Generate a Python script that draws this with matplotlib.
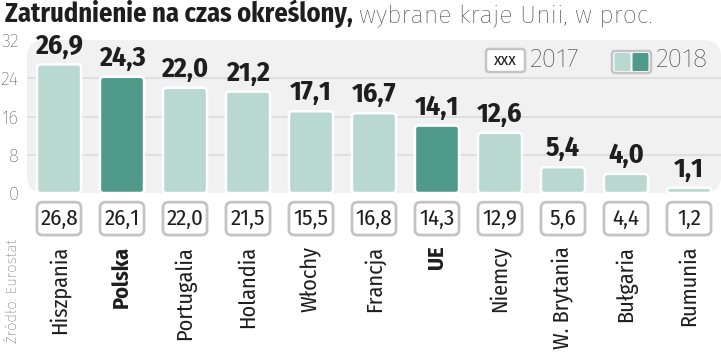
import numpy as np
import matplotlib.pyplot as plt
import matplotlib.transforms as mtransforms
from matplotlib.patches import FancyBboxPatch

# ---------------------------------- data ----------------------------------
countries = ["Hiszpania", "Polska", "Portugalia", "Holandia", "Włochy", "Francja",
             "UE", "Niemcy", "W. Brytania", "Bułgaria", "Rumunia"]
val_2018 = [26.9, 24.3, 22.0, 21.2, 17.1, 16.7, 14.1, 12.6, 5.4, 4.0, 1.1]
val_2017 = [26.8, 26.1, 22.0, 21.5, 15.5, 16.8, 14.3, 12.9, 5.6, 4.4, 1.2]
highlight = ["Polska", "UE"]
yticks = [0, 8, 16, 24, 32]

LIGHT = "#b9d9d0"
DARK = "#4f9a8b"
PANEL = "#f1f1f1"
GRID = "#dcdcdc"
BOXEDGE = "#c4c4c4"
TXT = "#1e1e1e"

NARROW = ["Fira Sans Condensed", "Roboto Condensed", "Liberation Sans Narrow", "DejaVu Sans"]
LIGHTF = ["Fira Sans", "Roboto", "DejaVu Sans"]


def fmt(v):
    return ("%.1f" % v).replace(".", ",")


W, H = 721, 352
fig = plt.figure(figsize=(W / 100, H / 100), dpi=100)
fig.patch.set_facecolor("white")

# axes: zero line at y=193px, 32 at y=40px; panel from x=27px to right edge
ax = fig.add_axes([27 / W, (H - 193) / H, 694 / W, 153 / H])
ax.set_facecolor("none")
x = np.arange(len(countries))
ax.set_xlim(-0.508, len(countries) - 1 + 0.508)
ax.set_ylim(0, 32)
for s in ax.spines.values():
    s.set_visible(False)

# panel background with rounded corners
panel = FancyBboxPatch((0, 0), 1, 1, boxstyle="round,pad=0,rounding_size=0.025",
                       mutation_aspect=694 / 153, transform=ax.transAxes,
                       facecolor=PANEL, edgecolor="none", zorder=0, clip_on=False)
ax.add_patch(panel)

for t in yticks[1:-1]:
    ax.axhline(t, color=GRID, lw=1.2, zorder=1)

ax.set_xticks([])
ax.set_yticks(yticks)
ax.set_yticklabels([str(t) for t in yticks], fontfamily=LIGHTF, fontweight="light",
                   fontsize=13.5, color="#333333")
ax.tick_params(axis="y", length=0, pad=6)

# bars (rounded)
bw = 0.70
px_x = 694 / (len(countries) + 0.016)
px_y = 153 / 32
asp = px_x / px_y
for xi, v, c in zip(x, val_2018, countries):
    col = DARK if c in highlight else LIGHT
    r = min(0.06, v / 2 / asp * 0.9)
    p = FancyBboxPatch((xi - bw / 2, 0), bw, v,
                       boxstyle="round,pad=0,rounding_size=%f" % r,
                       mutation_aspect=asp, facecolor=col, edgecolor="white",
                       linewidth=1.8, zorder=3)
    ax.add_patch(p)
    ax.text(xi, v + 1.1, fmt(v), ha="center", va="bottom", fontfamily=NARROW,
            fontweight="bold", fontsize=20, color=TXT, zorder=4)

# 2017 boxes and country labels
bt = mtransforms.blended_transform_factory(ax.transData, ax.transAxes)
bw17 = 0.70
for xi, v, c in zip(x, val_2017, countries):
    b = FancyBboxPatch((xi - bw17 / 2, -0.275), bw17, 0.215,
                       boxstyle="round,pad=0,rounding_size=0.09",
                       mutation_aspect=px_x / 153, transform=bt,
                       facecolor="white", edgecolor=BOXEDGE, linewidth=2.0,
                       clip_on=False, zorder=3)
    ax.add_patch(b)
    ax.text(xi, -0.167, fmt(v), transform=bt, ha="center", va="center",
            fontfamily=NARROW, fontsize=16.5, color=TXT, zorder=4)
    ax.text(xi, -0.345, c, transform=bt, ha="center", va="top", rotation=90,
            fontfamily=NARROW, fontsize=16, color=TXT,
            fontweight="bold" if c in highlight else "normal")

# legend
legbox = FancyBboxPatch((486 / W, 1 - 72 / H), 39 / W, 23 / H,
                        boxstyle="round,pad=0,rounding_size=0.004",
                        mutation_aspect=W / H, transform=fig.transFigure,
                        facecolor="white", edgecolor=BOXEDGE, linewidth=1.8,
                        zorder=5)
fig.patches.append(legbox)
fig.text(505.5 / W, 1 - 60 / H, "xxx", ha="center", va="center", fontfamily=NARROW,
         fontsize=12.5, color=TXT, zorder=10)
fig.text(530 / W, 1 - 60 / H, "2017", ha="left", va="center", fontfamily=LIGHTF,
         fontweight="light", fontsize=19.5, color="#2a2a2a", zorder=10)
outer = FancyBboxPatch((612 / W, 1 - 73 / H), 39 / W, 22 / H,
                       boxstyle="round,pad=0,rounding_size=0.004",
                       mutation_aspect=W / H, transform=fig.transFigure,
                       facecolor="white", edgecolor=BOXEDGE, linewidth=1.8, zorder=5)
fig.patches.append(outer)
for x0, col in [(614.5, LIGHT), (632.5, DARK)]:
    sq = FancyBboxPatch((x0 / W, 1 - 71 / H), 16 / W, 18 / H,
                        boxstyle="round,pad=0,rounding_size=0.002",
                        mutation_aspect=W / H, transform=fig.transFigure,
                        facecolor=col, edgecolor="none", zorder=6)
    fig.patches.append(sq)
fig.text(656 / W, 1 - 60 / H, "2018", ha="left", va="center", fontfamily=LIGHTF,
         fontweight="light", fontsize=19.5, color="#2a2a2a", zorder=10)

# title
t1 = fig.text(5 / W, 1 - 22 / H, "Zatrudnienie na czas określony,", ha="left",
              va="baseline", fontfamily=NARROW, fontweight="bold", fontsize=19,
              color=TXT)
fig.canvas.draw()
bb = t1.get_window_extent(renderer=fig.canvas.get_renderer())
fig.text(bb.x1 / W + 6 / W, 1 - 22 / H, "wybrane kraje Unii, w proc.", ha="left",
         va="baseline", fontfamily=LIGHTF, fontweight="light", fontsize=18,
         color="#2a2a2a")

# source
fig.text(13 / W, 1 - 239 / H, "Źródło: Eurostat", rotation=90, ha="center", va="top",
         fontfamily=LIGHTF, fontweight="light", fontsize=10.8, color="#444444")

fig.savefig("out.png", dpi=100)
